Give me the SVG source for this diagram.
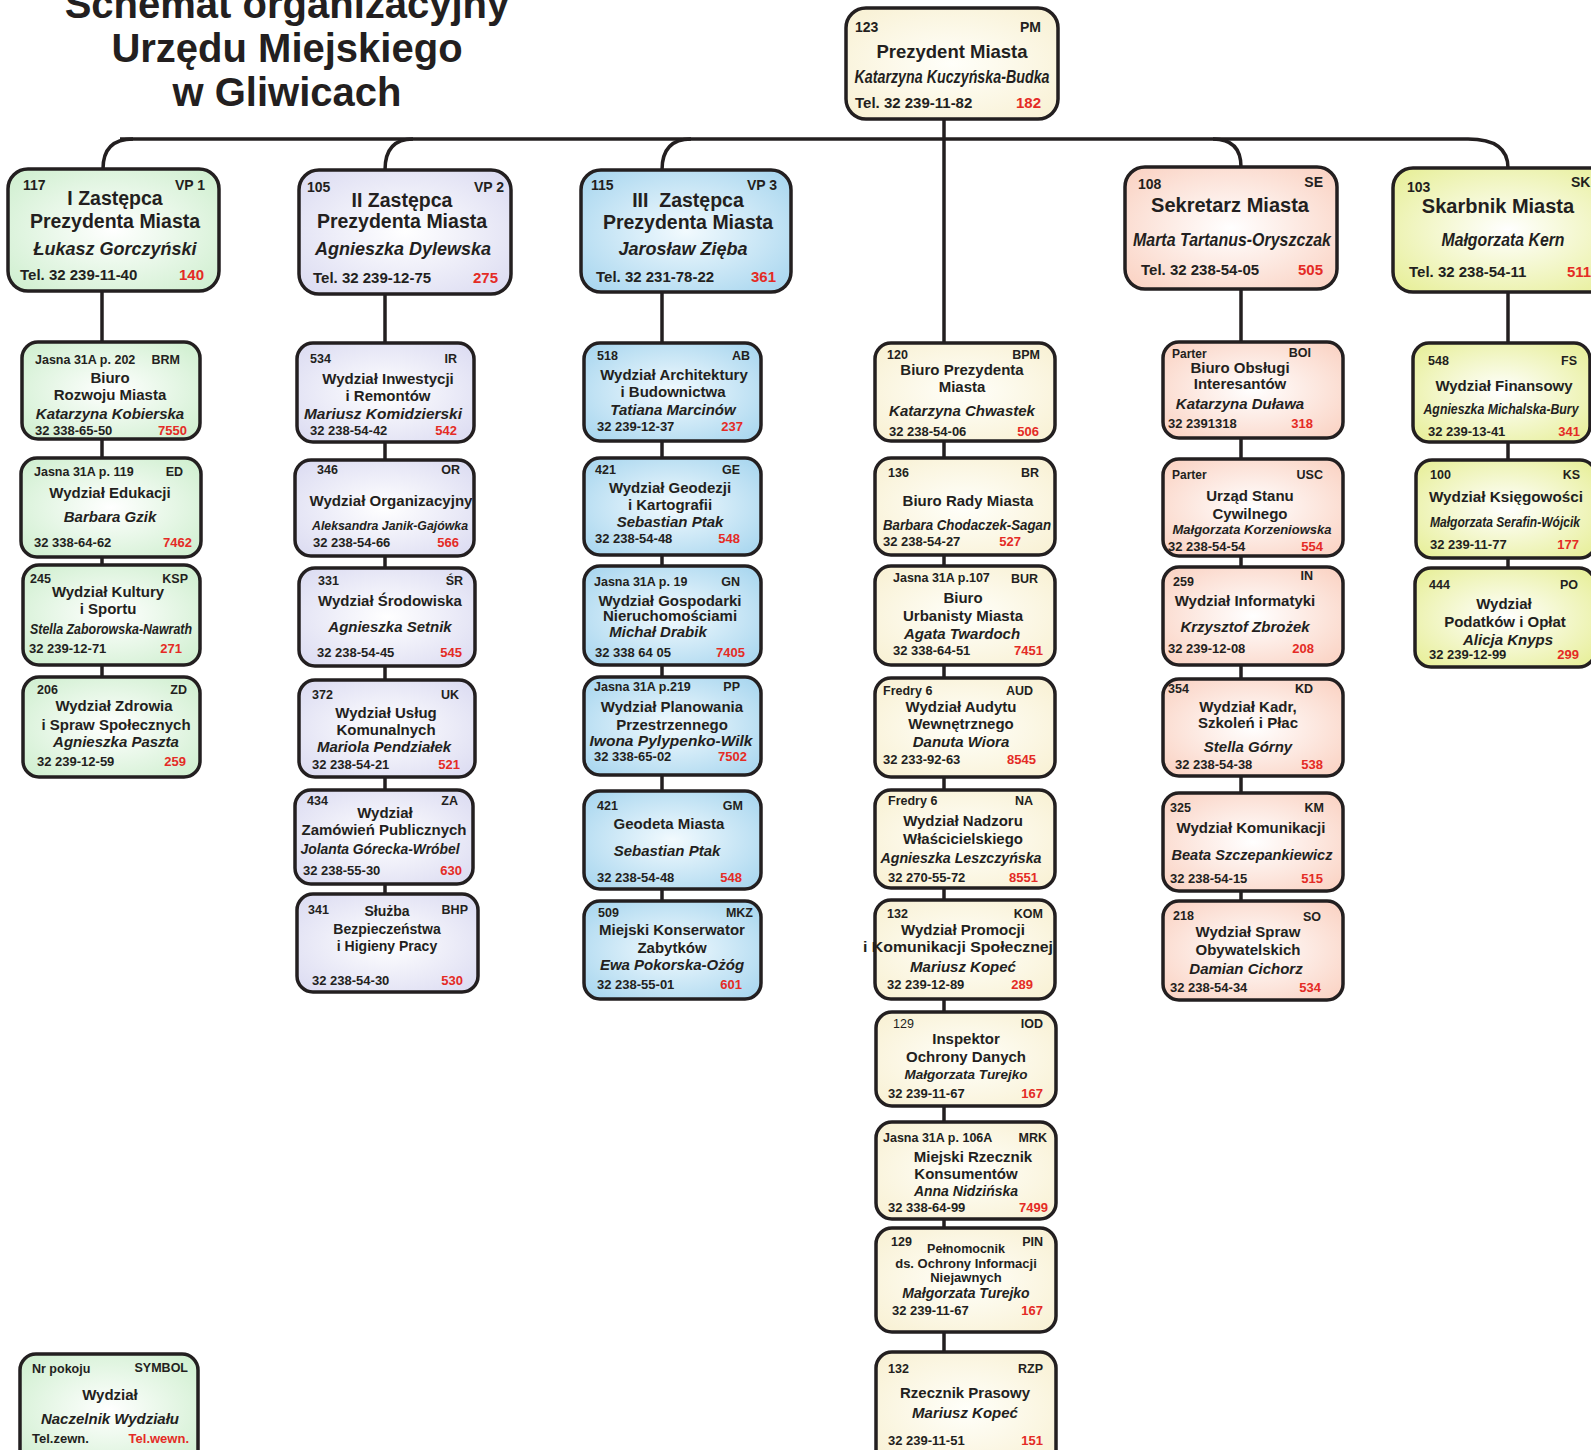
<svg xmlns="http://www.w3.org/2000/svg" width="1591" height="1450" viewBox="0 0 1591 1450">
<style>
.bx{stroke:#231f20;stroke-width:3.5}
text{font-family:"Liberation Sans",Arial,Helvetica,sans-serif;font-weight:bold;fill:#231f20}
.h{font-size:12.5px}
.e{text-anchor:end}
.t{font-size:15px;text-anchor:middle}
.s{font-size:13px;text-anchor:middle}
.n{font-size:15px;font-style:italic;text-anchor:middle}
.p{font-size:13px}
.x{font-size:13px;fill:#e42b25;text-anchor:end}
.H{font-size:14px}
.T{font-size:19.5px;text-anchor:middle}
.N{font-size:18px;font-style:italic;text-anchor:middle}
.P{font-size:15px}
.X{font-size:15px;fill:#e42b25;text-anchor:end}
.ttl{font-size:40px;text-anchor:middle}
.cn{stroke:#231f20;stroke-width:3.5;fill:none}
</style>
<defs>
<radialGradient id="g1" cx="50%" cy="50%" r="70%"><stop offset="0" stop-color="#ffffff"/><stop offset="1" stop-color="#cdeecd"/></radialGradient>
<radialGradient id="g2" cx="50%" cy="50%" r="70%"><stop offset="0" stop-color="#ffffff"/><stop offset="1" stop-color="#dadaf1"/></radialGradient>
<radialGradient id="g3" cx="50%" cy="50%" r="70%"><stop offset="0" stop-color="#f2fafe"/><stop offset="1" stop-color="#a4d4ee"/></radialGradient>
<radialGradient id="g4" cx="50%" cy="50%" r="70%"><stop offset="0" stop-color="#fffffa"/><stop offset="1" stop-color="#f8f0d2"/></radialGradient>
<radialGradient id="g5" cx="50%" cy="50%" r="70%"><stop offset="0" stop-color="#ffffff"/><stop offset="1" stop-color="#fad0c0"/></radialGradient>
<radialGradient id="g6" cx="50%" cy="50%" r="70%"><stop offset="0" stop-color="#ffffff"/><stop offset="1" stop-color="#e6ee94"/></radialGradient>
</defs>

<g id="title">
<text class="ttl" x="287" y="18">Schemat organizacyjny</text>
<text class="ttl" x="287" y="62">Urzędu Miejskiego</text>
<text class="ttl" x="287" y="106">w Gliwicach</text>
</g>

<g id="connectors">
<path class="cn" d="M120 139 H1468"/>
<path class="cn" d="M133 139 Q103 139 103 169"/>
<path class="cn" d="M413 139 Q385 139 385 170"/>
<path class="cn" d="M691 139 Q662 139 662 170"/>
<path class="cn" d="M1213 139 Q1241 139 1241 167"/>
<path class="cn" d="M1468 139 Q1508 139 1508 168"/>
<path class="cn" d="M944 119 V1352"/>
<path class="cn" d="M102 291 V677"/>
<path class="cn" d="M385 294 V894"/>
<path class="cn" d="M662 292 V901"/>
<path class="cn" d="M1241 289 V901"/>
<path class="cn" d="M1508 292 V568"/>
</g>

<g id="PM">
<rect class="bx" x="846" y="8" width="212" height="111" rx="20" fill="url(#g4)"/>
<text class="H" x="855" y="32">123</text>
<text class="H e" x="1041" y="32">PM</text>
<text class="T" x="952" y="58" style="font-size:18.5px">Prezydent Miasta</text>
<text class="N" x="952" y="83" textLength="195" lengthAdjust="spacingAndGlyphs">Katarzyna Kuczyńska-Budka</text>
<text class="P" x="855" y="108">Tel. 32 239-11-82</text>
<text class="X" x="1041" y="108">182</text>
</g>

<g id="VP1">
<rect class="bx" x="8" y="169" width="211" height="122" rx="20" fill="url(#g1)"/>
<text class="H" x="23" y="190">117</text>
<text class="H e" x="205" y="190">VP 1</text>
<text class="T" x="115" y="205">I Zastępca</text>
<text class="T" x="115" y="228">Prezydenta Miasta</text>
<text class="N" x="115" y="255">Łukasz Gorczyński</text>
<text class="P" x="20" y="280">Tel. 32 239-11-40</text>
<text class="X" x="204" y="280">140</text>
</g>

<g id="VP2">
<rect class="bx" x="299" y="170" width="212" height="124" rx="20" fill="url(#g2)"/>
<text class="H" x="307" y="192">105</text>
<text class="H e" x="504" y="192">VP 2</text>
<text class="T" x="402" y="207">II Zastępca</text>
<text class="T" x="402" y="228">Prezydenta Miasta</text>
<text class="N" x="403" y="255">Agnieszka Dylewska</text>
<text class="P" x="313" y="283">Tel. 32 239-12-75</text>
<text class="X" x="498" y="283">275</text>
</g>

<g id="VP3">
<rect class="bx" x="581" y="170" width="210" height="122" rx="20" fill="url(#g3)"/>
<text class="H" x="591" y="190">115</text>
<text class="H e" x="777" y="190">VP 3</text>
<text class="T" x="688" y="207">III&#160; Zastępca</text>
<text class="T" x="688" y="229">Prezydenta Miasta</text>
<text class="N" x="683" y="255">Jarosław Zięba</text>
<text class="P" x="596" y="282">Tel. 32 231-78-22</text>
<text class="X" x="776" y="282">361</text>
</g>

<g id="SE">
<rect class="bx" x="1125" y="167" width="212" height="122" rx="20" fill="url(#g5)"/>
<text class="H" x="1138" y="189">108</text>
<text class="H e" x="1323" y="187">SE</text>
<text class="T" x="1230" y="212" style="font-size:20px">Sekretarz Miasta</text>
<text class="N" x="1232" y="246" textLength="198" lengthAdjust="spacingAndGlyphs">Marta Tartanus-Oryszczak</text>
<text class="P" x="1141" y="275">Tel. 32 238-54-05</text>
<text class="X" x="1323" y="275">505</text>
</g>

<g id="SK">
<rect class="bx" x="1393" y="168" width="230" height="124" rx="20" fill="url(#g6)"/>
<text class="H" x="1407" y="192">103</text>
<text class="H" x="1571" y="187">SK</text>
<text class="T" x="1498" y="213" style="font-size:20px">Skarbnik Miasta</text>
<text class="N" x="1503" y="246" textLength="123" lengthAdjust="spacingAndGlyphs">Małgorzata Kern</text>
<text class="P" x="1409" y="277">Tel. 32 238-54-11</text>
<text class="P" x="1567" y="277" style="fill:#e42b25">511</text>
</g>

<!-- Column 1 -->
<g id="BRM">
<rect class="bx" x="22" y="342" width="178" height="97" rx="16" fill="url(#g1)"/>
<text class="h" x="35" y="364">Jasna 31A p. 202</text>
<text class="h e" x="180" y="364">BRM</text>
<text class="t" x="110" y="383">Biuro</text>
<text class="t" x="110" y="400">Rozwoju Miasta</text>
<text class="n" x="110" y="419">Katarzyna Kobierska</text>
<text class="p" x="35" y="435">32 338-65-50</text>
<text class="x" x="187" y="435">7550</text>
</g>
<g id="ED">
<rect class="bx" x="21" y="458" width="180" height="99" rx="16" fill="url(#g1)"/>
<text class="h" x="34" y="476">Jasna 31A p. 119</text>
<text class="h e" x="183" y="476">ED</text>
<text class="t" x="110" y="498">Wydział Edukacji</text>
<text class="n" x="110" y="522">Barbara Gzik</text>
<text class="p" x="34" y="547">32 338-64-62</text>
<text class="x" x="192" y="547">7462</text>
</g>
<g id="KSP">
<rect class="bx" x="23" y="565" width="177" height="100" rx="16" fill="url(#g1)"/>
<text class="h" x="30" y="583">245</text>
<text class="h e" x="188" y="583">KSP</text>
<text class="t" x="108" y="597">Wydział Kultury</text>
<text class="t" x="108" y="614">i Sportu</text>
<text class="n" x="111" y="634" textLength="162" lengthAdjust="spacingAndGlyphs">Stella Zaborowska-Nawrath</text>
<text class="p" x="29" y="653">32 239-12-71</text>
<text class="x" x="182" y="653">271</text>
</g>
<g id="ZD">
<rect class="bx" x="23" y="677" width="177" height="100" rx="16" fill="url(#g1)"/>
<text class="h" x="37" y="694">206</text>
<text class="h e" x="187" y="694">ZD</text>
<text class="t" x="114" y="711">Wydział Zdrowia</text>
<text class="t" x="116" y="730">i Spraw Społecznych</text>
<text class="n" x="116" y="747">Agnieszka Paszta</text>
<text class="p" x="37" y="766">32 239-12-59</text>
<text class="x" x="186" y="766">259</text>
</g>

<!-- Column 2 -->
<g id="IR">
<rect class="bx" x="297" y="343" width="177" height="99" rx="16" fill="url(#g2)"/>
<text class="h" x="310" y="363">534</text>
<text class="h e" x="457" y="363">IR</text>
<text class="t" x="388" y="384">Wydział Inwestycji</text>
<text class="t" x="388" y="401">i Remontów</text>
<text class="n" x="383" y="419" textLength="158" lengthAdjust="spacingAndGlyphs">Mariusz Komidzierski</text>
<text class="p" x="310" y="435">32 238-54-42</text>
<text class="x" x="457" y="435">542</text>
</g>
<g id="OR">
<rect class="bx" x="295" y="460" width="179" height="96" rx="16" fill="url(#g2)"/>
<text class="h" x="317" y="474">346</text>
<text class="h e" x="460" y="474">OR</text>
<text class="t" x="391" y="506" textLength="163" lengthAdjust="spacingAndGlyphs">Wydział Organizacyjny</text>
<text class="n" x="390" y="530" style="font-size:13.5px" textLength="156" lengthAdjust="spacingAndGlyphs">Aleksandra Janik-Gajówka</text>
<text class="p" x="313" y="547">32 238-54-66</text>
<text class="x" x="459" y="547">566</text>
</g>
<g id="SR">
<rect class="bx" x="299" y="568" width="176" height="98" rx="16" fill="url(#g2)"/>
<text class="h" x="318" y="585">331</text>
<text class="h e" x="463" y="585">ŚR</text>
<text class="t" x="390" y="606">Wydział Środowiska</text>
<text class="n" x="390" y="632">Agnieszka Setnik</text>
<text class="p" x="317" y="657">32 238-54-45</text>
<text class="x" x="462" y="657">545</text>
</g>
<g id="UK">
<rect class="bx" x="299" y="680" width="176" height="97" rx="16" fill="url(#g2)"/>
<text class="h" x="312" y="699">372</text>
<text class="h e" x="459" y="699">UK</text>
<text class="t" x="386" y="718">Wydział Usług</text>
<text class="t" x="386" y="735">Komunalnych</text>
<text class="n" x="384" y="752">Mariola Pendziałek</text>
<text class="p" x="312" y="769">32 238-54-21</text>
<text class="x" x="460" y="769">521</text>
</g>
<g id="ZA">
<rect class="bx" x="295" y="790" width="178" height="94" rx="16" fill="url(#g2)"/>
<text class="h" x="307" y="805">434</text>
<text class="h e" x="458" y="805">ZA</text>
<text class="t" x="385" y="818">Wydział</text>
<text class="t" x="384" y="835">Zamówień Publicznych</text>
<text class="n" x="380" y="854" textLength="159" lengthAdjust="spacingAndGlyphs">Jolanta Górecka-Wróbel</text>
<text class="p" x="303" y="875">32 238-55-30</text>
<text class="x" x="462" y="875">630</text>
</g>
<g id="BHP">
<rect class="bx" x="297" y="894" width="181" height="98" rx="16" fill="url(#g2)"/>
<text class="h" x="308" y="914">341</text>
<text class="t" x="387" y="916" style="font-size:14px">Służba</text>
<text class="h e" x="468" y="914">BHP</text>
<text class="t" x="387" y="934" style="font-size:14px">Bezpieczeństwa</text>
<text class="t" x="387" y="951" style="font-size:14px">i Higieny Pracy</text>
<text class="p" x="312" y="985">32 238-54-30</text>
<text class="x" x="463" y="985">530</text>
</g>

<!-- Column 3 -->
<g id="AB">
<rect class="bx" x="584" y="343" width="177" height="98" rx="16" fill="url(#g3)"/>
<text class="h" x="597" y="360">518</text>
<text class="h e" x="750" y="360">AB</text>
<text class="t" x="674" y="380">Wydział Architektury</text>
<text class="t" x="673" y="397">i Budownictwa</text>
<text class="n" x="673" y="415">Tatiana Marcinów</text>
<text class="p" x="597" y="431">32 239-12-37</text>
<text class="x" x="743" y="431">237</text>
</g>
<g id="GE">
<rect class="bx" x="584" y="458" width="177" height="97" rx="16" fill="url(#g3)"/>
<text class="h" x="595" y="474">421</text>
<text class="h e" x="740" y="474">GE</text>
<text class="t" x="670" y="493">Wydział Geodezji</text>
<text class="t" x="670" y="510">i Kartografii</text>
<text class="n" x="670" y="527">Sebastian Ptak</text>
<text class="p" x="595" y="543">32 238-54-48</text>
<text class="x" x="740" y="543">548</text>
</g>
<g id="GN">
<rect class="bx" x="584" y="566" width="177" height="99" rx="16" fill="url(#g3)"/>
<text class="h" x="594" y="586">Jasna 31A p. 19</text>
<text class="h e" x="740" y="586">GN</text>
<text class="t" x="670" y="606">Wydział Gospodarki</text>
<text class="t" x="670" y="621">Nieruchomościami</text>
<text class="n" x="658" y="637">Michał Drabik</text>
<text class="p" x="595" y="657">32 338 64 05</text>
<text class="x" x="745" y="657">7405</text>
</g>
<g id="PP">
<rect class="bx" x="584" y="677" width="177" height="98" rx="16" fill="url(#g3)"/>
<text class="h" x="594" y="691">Jasna 31A p.219</text>
<text class="h e" x="740" y="691">PP</text>
<text class="t" x="672" y="712">Wydział Planowania</text>
<text class="t" x="672" y="730">Przestrzennego</text>
<text class="n" x="671" y="746" textLength="163" lengthAdjust="spacingAndGlyphs">Iwona Pylypenko-Wilk</text>
<text class="p" x="594" y="761">32 338-65-02</text>
<text class="x" x="747" y="761">7502</text>
</g>
<g id="GM">
<rect class="bx" x="584" y="791" width="177" height="98" rx="16" fill="url(#g3)"/>
<text class="h" x="597" y="810">421</text>
<text class="h e" x="743" y="810">GM</text>
<text class="t" x="669" y="829">Geodeta Miasta</text>
<text class="n" x="667" y="856">Sebastian Ptak</text>
<text class="p" x="597" y="882">32 238-54-48</text>
<text class="x" x="742" y="882">548</text>
</g>
<g id="MKZ">
<rect class="bx" x="584" y="901" width="177" height="98" rx="16" fill="url(#g3)"/>
<text class="h" x="598" y="917">509</text>
<text class="h e" x="753" y="917">MKZ</text>
<text class="t" x="672" y="935">Miejski Konserwator</text>
<text class="t" x="672" y="953">Zabytków</text>
<text class="n" x="672" y="970">Ewa Pokorska-Ożóg</text>
<text class="p" x="597" y="989">32 238-55-01</text>
<text class="x" x="742" y="989">601</text>
</g>

<!-- Column 4 -->
<g id="BPM">
<rect class="bx" x="875" y="343" width="180" height="98" rx="16" fill="url(#g4)"/>
<text class="h" x="887" y="359">120</text>
<text class="h e" x="1040" y="359">BPM</text>
<text class="t" x="962" y="375">Biuro Prezydenta</text>
<text class="t" x="962" y="392">Miasta</text>
<text class="n" x="962" y="416">Katarzyna Chwastek</text>
<text class="p" x="889" y="436">32 238-54-06</text>
<text class="x" x="1039" y="436">506</text>
</g>
<g id="BR">
<rect class="bx" x="875" y="458" width="180" height="97" rx="16" fill="url(#g4)"/>
<text class="h" x="888" y="477">136</text>
<text class="h e" x="1039" y="477">BR</text>
<text class="t" x="968" y="506">Biuro Rady Miasta</text>
<text class="n" x="967" y="530" textLength="168" lengthAdjust="spacingAndGlyphs">Barbara Chodaczek-Sagan</text>
<text class="p" x="883" y="546">32 238-54-27</text>
<text class="x" x="1021" y="546">527</text>
</g>
<g id="BUR">
<rect class="bx" x="875" y="566" width="180" height="99" rx="16" fill="url(#g4)"/>
<text class="h" x="893" y="582">Jasna 31A p.107</text>
<text class="h e" x="1038" y="583">BUR</text>
<text class="t" x="963" y="603">Biuro</text>
<text class="t" x="963" y="621">Urbanisty Miasta</text>
<text class="n" x="962" y="639">Agata Twardoch</text>
<text class="p" x="893" y="655">32 338-64-51</text>
<text class="x" x="1043" y="655">7451</text>
</g>
<g id="AUD">
<rect class="bx" x="875" y="678" width="180" height="99" rx="16" fill="url(#g4)"/>
<text class="h" x="883" y="695">Fredry 6</text>
<text class="h e" x="1033" y="695">AUD</text>
<text class="t" x="961" y="712">Wydział Audytu</text>
<text class="t" x="961" y="729">Wewnętrznego</text>
<text class="n" x="961" y="747">Danuta Wiora</text>
<text class="p" x="883" y="764">32 233-92-63</text>
<text class="x" x="1036" y="764">8545</text>
</g>
<g id="NA">
<rect class="bx" x="875" y="790" width="180" height="98" rx="16" fill="url(#g4)"/>
<text class="h" x="888" y="805">Fredry 6</text>
<text class="h e" x="1033" y="805">NA</text>
<text class="t" x="963" y="826">Wydział Nadzoru</text>
<text class="t" x="963" y="844">Właścicielskiego</text>
<text class="n" x="961" y="863" textLength="161" lengthAdjust="spacingAndGlyphs">Agnieszka Leszczyńska</text>
<text class="p" x="888" y="882">32 270-55-72</text>
<text class="x" x="1038" y="882">8551</text>
</g>
<g id="KOM">
<rect class="bx" x="875" y="900" width="180" height="99" rx="16" fill="url(#g4)"/>
<text class="h" x="887" y="918">132</text>
<text class="h e" x="1043" y="918">KOM</text>
<text class="t" x="963" y="935">Wydział Promocji</text>
<text class="t" x="958" y="952" textLength="190" lengthAdjust="spacingAndGlyphs">i Komunikacji Społecznej</text>
<text class="n" x="963" y="972">Mariusz Kopeć</text>
<text class="p" x="887" y="989">32 239-12-89</text>
<text class="x" x="1033" y="989">289</text>
</g>
<g id="IOD">
<rect class="bx" x="876" y="1012" width="180" height="94" rx="16" fill="url(#g4)"/>
<text class="h" x="893" y="1028" style="font-weight:normal">129</text>
<text class="h e" x="1043" y="1028">IOD</text>
<text class="t" x="966" y="1044">Inspektor</text>
<text class="t" x="966" y="1062">Ochrony Danych</text>
<text class="n" x="966" y="1079" style="font-size:13.5px">Małgorzata Turejko</text>
<text class="p" x="888" y="1098">32 239-11-67</text>
<text class="x" x="1043" y="1098">167</text>
</g>
<g id="MRK">
<rect class="bx" x="876" y="1122" width="180" height="97" rx="16" fill="url(#g4)"/>
<text class="h" x="883" y="1142">Jasna 31A p. 106A</text>
<text class="h e" x="1047" y="1142">MRK</text>
<text class="t" x="973" y="1162">Miejski Rzecznik</text>
<text class="t" x="966" y="1179">Konsumentów</text>
<text class="n" x="966" y="1196" style="font-size:14px">Anna Nidzińska</text>
<text class="p" x="888" y="1212">32 338-64-99</text>
<text class="x" x="1048" y="1212">7499</text>
</g>
<g id="PIN">
<rect class="bx" x="876" y="1228" width="180" height="104" rx="16" fill="url(#g4)"/>
<text class="h" x="891" y="1246">129</text>
<text class="s" x="966" y="1253" style="font-size:12.5px">Pełnomocnik</text>
<text class="h e" x="1043" y="1246">PIN</text>
<text class="s" x="966" y="1268">ds. Ochrony Informacji</text>
<text class="s" x="966" y="1282">Niejawnych</text>
<text class="n" x="966" y="1298" style="font-size:14px">Małgorzata Turejko</text>
<text class="p" x="892" y="1315">32 239-11-67</text>
<text class="x" x="1043" y="1315">167</text>
</g>
<g id="RZP">
<rect class="bx" x="876" y="1352" width="180" height="115" rx="16" fill="url(#g4)"/>
<text class="h" x="888" y="1373">132</text>
<text class="h e" x="1043" y="1373">RZP</text>
<text class="t" x="965" y="1398">Rzecznik Prasowy</text>
<text class="n" x="965" y="1418">Mariusz Kopeć</text>
<text class="p" x="888" y="1445">32 239-11-51</text>
<text class="x" x="1043" y="1445">151</text>
</g>

<!-- Column 5 -->
<g id="BOI">
<rect class="bx" x="1163" y="342" width="180" height="96" rx="16" fill="url(#g5)"/>
<text class="h" x="1172" y="358" style="font-size:12px">Parter</text>
<text class="h e" x="1311" y="357">BOI</text>
<text class="t" x="1240" y="373">Biuro Obsługi</text>
<text class="t" x="1240" y="389">Interesantów</text>
<text class="n" x="1240" y="409">Katarzyna Duława</text>
<text class="p" x="1168" y="428">32 2391318</text>
<text class="x" x="1313" y="428">318</text>
</g>
<g id="USC">
<rect class="bx" x="1163" y="459" width="180" height="97" rx="16" fill="url(#g5)"/>
<text class="h" x="1172" y="479" style="font-size:12px">Parter</text>
<text class="h e" x="1323" y="479">USC</text>
<text class="t" x="1250" y="501">Urząd Stanu</text>
<text class="t" x="1250" y="519">Cywilnego</text>
<text class="n" x="1252" y="534" style="font-size:13.5px" textLength="159" lengthAdjust="spacingAndGlyphs">Małgorzata Korzeniowska</text>
<text class="p" x="1168" y="551">32 238-54-54</text>
<text class="x" x="1323" y="551">554</text>
</g>
<g id="IN">
<rect class="bx" x="1163" y="567" width="180" height="98" rx="16" fill="url(#g5)"/>
<text class="h" x="1173" y="586">259</text>
<text class="h e" x="1313" y="580">IN</text>
<text class="t" x="1245" y="606">Wydział Informatyki</text>
<text class="n" x="1245" y="632">Krzysztof Zbrożek</text>
<text class="p" x="1168" y="653">32 239-12-08</text>
<text class="x" x="1314" y="653">208</text>
</g>
<g id="KD">
<rect class="bx" x="1163" y="679" width="180" height="97" rx="16" fill="url(#g5)"/>
<text class="h" x="1168" y="693">354</text>
<text class="h e" x="1313" y="693">KD</text>
<text class="t" x="1248" y="712">Wydział Kadr,</text>
<text class="t" x="1248" y="728">Szkoleń i Płac</text>
<text class="n" x="1248" y="752">Stella Górny</text>
<text class="p" x="1175" y="769">32 238-54-38</text>
<text class="x" x="1323" y="769">538</text>
</g>
<g id="KM">
<rect class="bx" x="1163" y="793" width="180" height="98" rx="16" fill="url(#g5)"/>
<text class="h" x="1170" y="812">325</text>
<text class="h e" x="1324" y="812">KM</text>
<text class="t" x="1251" y="833">Wydział Komunikacji</text>
<text class="n" x="1252" y="860" textLength="161" lengthAdjust="spacingAndGlyphs">Beata Szczepankiewicz</text>
<text class="p" x="1170" y="883">32 238-54-15</text>
<text class="x" x="1323" y="883">515</text>
</g>
<g id="SO">
<rect class="bx" x="1163" y="901" width="180" height="99" rx="16" fill="url(#g5)"/>
<text class="h" x="1173" y="920">218</text>
<text class="h e" x="1321" y="921">SO</text>
<text class="t" x="1248" y="937">Wydział Spraw</text>
<text class="t" x="1248" y="955">Obywatelskich</text>
<text class="n" x="1246" y="974">Damian Cichorz</text>
<text class="p" x="1170" y="992">32 238-54-34</text>
<text class="x" x="1321" y="992">534</text>
</g>

<!-- Column 6 -->
<g id="FS">
<rect class="bx" x="1413" y="343" width="177" height="99" rx="16" fill="url(#g6)"/>
<text class="h" x="1428" y="365">548</text>
<text class="h e" x="1577" y="365">FS</text>
<text class="t" x="1504" y="391">Wydział Finansowy</text>
<text class="n" x="1501" y="414" textLength="155" lengthAdjust="spacingAndGlyphs">Agnieszka Michalska-Bury</text>
<text class="p" x="1428" y="436">32 239-13-41</text>
<text class="x" x="1580" y="436">341</text>
</g>
<g id="KS">
<rect class="bx" x="1416" y="460" width="180" height="98" rx="16" fill="url(#g6)"/>
<text class="h" x="1430" y="479">100</text>
<text class="h e" x="1580" y="479">KS</text>
<text class="t" x="1506" y="502" textLength="154" lengthAdjust="spacingAndGlyphs">Wydział Księgowości</text>
<text class="n" x="1505" y="527" style="font-size:14px" textLength="150" lengthAdjust="spacingAndGlyphs">Małgorzata Serafin-Wójcik</text>
<text class="p" x="1430" y="549">32 239-11-77</text>
<text class="x" x="1579" y="549">177</text>
</g>
<g id="PO">
<rect class="bx" x="1415" y="568" width="180" height="99" rx="16" fill="url(#g6)"/>
<text class="h" x="1429" y="589">444</text>
<text class="h e" x="1578" y="589">PO</text>
<text class="t" x="1504" y="609">Wydział</text>
<text class="t" x="1505" y="627">Podatków i Opłat</text>
<text class="n" x="1508" y="645">Alicja Knyps</text>
<text class="p" x="1429" y="659">32 239-12-99</text>
<text class="x" x="1579" y="659">299</text>
</g>

<g id="legend">
<rect class="bx" x="20" y="1354" width="178" height="112" rx="16" fill="url(#g1)"/>
<text class="h" x="32" y="1373">Nr pokoju</text>
<text class="h e" x="188" y="1372">SYMBOL</text>
<text class="t" x="110" y="1400">Wydział</text>
<text class="n" x="110" y="1424">Naczelnik Wydziału</text>
<text class="p" x="32" y="1443">Tel.zewn.</text>
<text class="x" x="189" y="1443">Tel.wewn.</text>
</g>
</svg>
